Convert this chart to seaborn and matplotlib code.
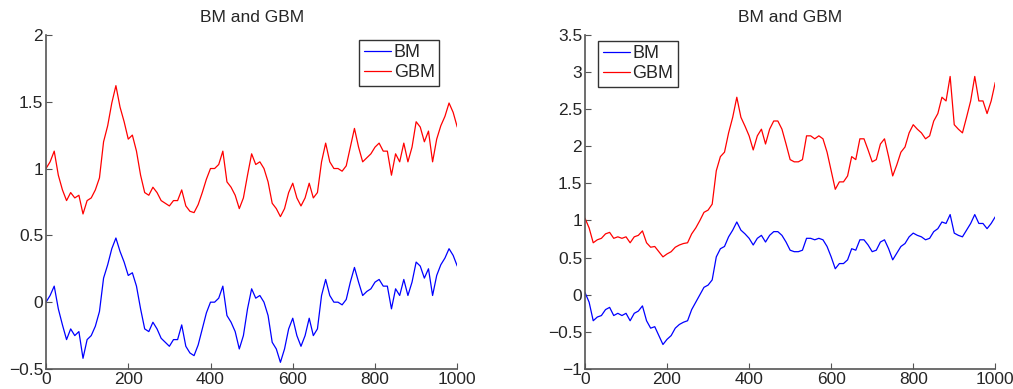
import numpy as np
import pandas as pd
import seaborn as sns
import matplotlib
matplotlib.use("Agg")
import matplotlib.pyplot as plt

# values, one every 10 steps (0..1000)
steps = list(range(0, 1001, 10))

left_bm = [0.0, 0.05, 0.12, -0.05, -0.17, -0.28, -0.2, -0.25, -0.22, -0.42,
           -0.28, -0.25, -0.18, -0.07, 0.18, 0.28, 0.4, 0.48, 0.38, 0.3,
           0.2, 0.22, 0.12, -0.05, -0.2, -0.22, -0.15, -0.2, -0.27, -0.3,
           -0.33, -0.28, -0.28, -0.17, -0.33, -0.38, -0.4, -0.32, -0.2, -0.08,
           0.0, 0.0, 0.03, 0.12, -0.1, -0.15, -0.22, -0.35, -0.25, -0.05,
           0.1, 0.03, 0.05, 0.0, -0.1, -0.3, -0.35, -0.45, -0.35, -0.2,
           -0.12, -0.25, -0.33, -0.25, -0.12, -0.25, -0.2, 0.05, 0.17, 0.05,
           0.0, 0.0, -0.02, 0.02, 0.15, 0.26, 0.15, 0.05, 0.08, 0.1,
           0.15, 0.17, 0.12, 0.12, -0.05, 0.1, 0.05, 0.17, 0.05, 0.15,
           0.3, 0.27, 0.18, 0.25, 0.05, 0.2, 0.28, 0.33, 0.4, 0.35, 0.27]

left_gbm = [1.0, 1.05, 1.13, 0.95, 0.84, 0.76, 0.82, 0.78, 0.80, 0.66,
            0.76, 0.78, 0.84, 0.93, 1.20, 1.32, 1.49, 1.62, 1.46, 1.35,
            1.22, 1.25, 1.13, 0.95, 0.82, 0.80, 0.86, 0.82, 0.76, 0.74,
            0.72, 0.76, 0.76, 0.84, 0.72, 0.68, 0.67, 0.73, 0.82, 0.92,
            1.0, 1.0, 1.03, 1.13, 0.90, 0.86, 0.80, 0.70, 0.78, 0.95,
            1.11, 1.03, 1.05, 1.0, 0.90, 0.74, 0.70, 0.64, 0.70, 0.82,
            0.89, 0.78, 0.72, 0.78, 0.89, 0.78, 0.82, 1.05, 1.19, 1.05,
            1.0, 1.0, 0.98, 1.02, 1.16, 1.30, 1.16, 1.05, 1.08, 1.11,
            1.16, 1.19, 1.13, 1.13, 0.95, 1.11, 1.05, 1.19, 1.05, 1.16,
            1.35, 1.31, 1.20, 1.28, 1.05, 1.22, 1.32, 1.39, 1.49, 1.42, 1.31]

right_bm = [0.03, -0.1, -0.35, -0.3, -0.28, -0.2, -0.17, -0.28, -0.25, -0.28,
            -0.25, -0.35, -0.25, -0.22, -0.15, -0.35, -0.45, -0.43, -0.55, -0.67,
            -0.6, -0.55, -0.45, -0.4, -0.37, -0.35, -0.2, -0.1, 0.0, 0.1,
            0.13, 0.2, 0.51, 0.62, 0.65, 0.78, 0.87, 0.98, 0.87, 0.82,
            0.76, 0.67, 0.76, 0.8, 0.71, 0.8, 0.85, 0.85, 0.8, 0.71,
            0.6, 0.58, 0.58, 0.6, 0.76, 0.76, 0.74, 0.76, 0.74, 0.65,
            0.51, 0.35, 0.42, 0.42, 0.47, 0.62, 0.6, 0.74, 0.74, 0.67,
            0.58, 0.6, 0.71, 0.74, 0.62, 0.47, 0.56, 0.65, 0.69, 0.78,
            0.83, 0.8, 0.78, 0.74, 0.76, 0.85, 0.89, 0.98, 0.96, 1.08,
            0.83, 0.8, 0.78, 0.87, 0.96, 1.08, 0.96, 0.96, 0.89, 0.96, 1.05]

right_gbm = [1.03, 0.90, 0.70, 0.74, 0.76, 0.82, 0.84, 0.76, 0.78, 0.76,
             0.78, 0.70, 0.78, 0.80, 0.86, 0.70, 0.64, 0.65, 0.58, 0.51,
             0.55, 0.58, 0.64, 0.67, 0.69, 0.70, 0.82, 0.90, 1.0, 1.11,
             1.14, 1.22, 1.67, 1.86, 1.92, 2.18, 2.39, 2.66, 2.39, 2.27,
             2.14, 1.95, 2.14, 2.23, 2.03, 2.23, 2.34, 2.34, 2.23, 2.03,
             1.82, 1.79, 1.79, 1.82, 2.14, 2.14, 2.10, 2.14, 2.10, 1.92,
             1.67, 1.42, 1.52, 1.52, 1.60, 1.86, 1.82, 2.10, 2.10, 1.95,
             1.79, 1.82, 2.03, 2.10, 1.86, 1.60, 1.75, 1.92, 1.99, 2.18,
             2.29, 2.23, 2.18, 2.10, 2.14, 2.34, 2.44, 2.66, 2.61, 2.94,
             2.29, 2.23, 2.18, 2.39, 2.61, 2.94, 2.61, 2.61, 2.44, 2.61, 2.86]

x_ticks = [0, 200, 400, 600, 800, 1000]
left_yticks = [-0.5, 0, 0.5, 1, 1.5, 2]
left_ylabels = ["\u22120.5", "0", "0.5", "1", "1.5", "2"]
right_yticks = [-1, -0.5, 0, 0.5, 1, 1.5, 2, 2.5, 3, 3.5]
right_ylabels = ["\u22121", "\u22120.5", "0", "0.5", "1", "1.5", "2", "2.5", "3", "3.5"]

sns.set_style("ticks")
plt.rcParams['font.family'] = ['Liberation Sans', 'DejaVu Sans']
plt.rcParams['xtick.direction'] = 'in'
plt.rcParams['ytick.direction'] = 'in'

fig = plt.figure(figsize=(10.13, 3.89), dpi=100)
ax1 = fig.add_axes([0.0454, 0.0514, 0.406, 0.859])
ax2 = fig.add_axes([0.5775, 0.0514, 0.405, 0.859])


def draw(ax, bm, gbm, yticks, ylabels, legend_loc, anchor):
    df = pd.DataFrame({"step": steps + steps,
                       "value": bm + gbm,
                       "series": ["BM"] * len(bm) + ["GBM"] * len(gbm)})
    sns.lineplot(data=df, x="step", y="value", hue="series",
                 palette={"BM": "#0000ff", "GBM": "#ff0000"},
                 linewidth=0.9, ax=ax)
    ax.set_xlim(0, 1000)
    ax.set_ylim(yticks[0], yticks[-1])
    ax.set_xticks(x_ticks)
    ax.set_xticklabels([str(t) for t in x_ticks])
    ax.set_yticks(yticks)
    ax.set_yticklabels(ylabels)
    ax.set_xlabel("")
    ax.set_ylabel("")
    ax.set_title("BM and GBM", fontsize=12.5, pad=9)
    sns.despine(ax=ax)
    for s in ["left", "bottom"]:
        ax.spines[s].set_color("#555555")
        ax.spines[s].set_linewidth(1.2)
    ax.tick_params(labelsize=12.5, length=4, color="#555555", pad=2)
    leg = ax.legend(loc=legend_loc, bbox_to_anchor=anchor, fontsize=13,
                    fancybox=False, handlelength=1.5, borderpad=0.25,
                    labelspacing=0.15, handletextpad=0.15, borderaxespad=0)
    leg.get_frame().set_edgecolor("black")
    leg.get_frame().set_linewidth(1.0)


draw(ax1, left_bm, left_gbm, left_yticks, left_ylabels, "upper right", (0.956, 0.985))
draw(ax2, right_bm, right_gbm, right_yticks, right_ylabels, "upper left", (0.032, 0.982))

fig.savefig("out.png", dpi=100)
